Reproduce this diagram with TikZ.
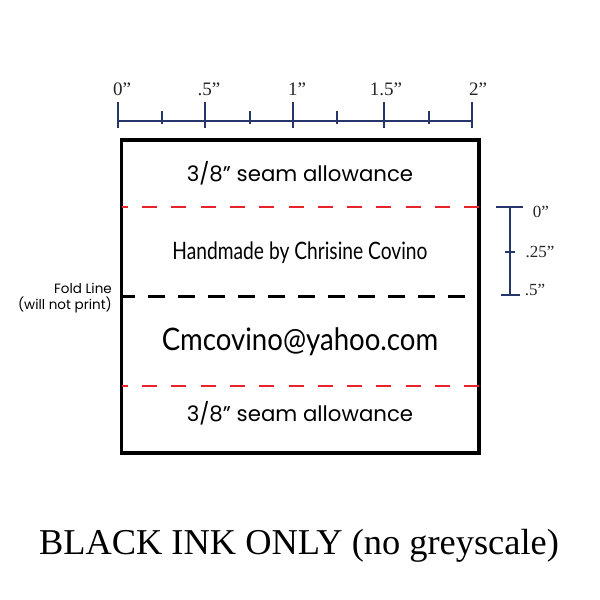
\documentclass[tikz,border=0pt]{standalone}
\usepackage{fontspec}
\setmainfont{Liberation Serif}
\newfontfamily\geo{Poppins}
\newfontfamily\hand{Lato}
\definecolor{navy}{HTML}{26366B}
\definecolor{seamred}{HTML}{E8232B}
\tikzset{
  ruler/.style={draw=navy, line width=1.8pt},
  rtick/.style={draw=navy, line width=1.2pt},
  rlabel/.style={font=\fontsize{19}{19}\selectfont, inner sep=0pt, text=black!85},
  slabel/.style={font=\fontsize{17}{17}\selectfont, inner sep=0pt, text=black!85},
  seamline/.style={draw=seamred, line width=2.2pt, dash pattern=on 15pt off 14.3pt, dash phase=8.8pt},
  foldline/.style={draw=black, line width=3pt, dash pattern=on 16.7pt off 13.3pt, dash phase=3.2pt},
  seamtext/.style={font=\geo\fontsize{21.3}{21.3}\selectfont, inner sep=0pt},
  smalltext/.style={font=\geo\fontsize{13.5}{15.5}\selectfont, inner sep=0pt, align=right},
  handtext/.style={font=\hand, inner sep=0pt},
}
\begin{document}
\begin{tikzpicture}[x=1pt,y=-1pt]
\useasboundingbox[fill=white] (0,0) rectangle (600,600);
% top ruler
\coordinate (h0) at (118,121);
\coordinate (h2) at (473,121);
\draw[ruler] (h0) -- (h2);
\foreach \x in {118,205,293,384,472}{\draw[ruler] (\x,102) -- (\x,128);}
\foreach \x in {162,250,337,429}{\draw[rtick] (\x,111) -- (\x,124);}
\node[rlabel] (l0) at (122,89) {0”};
\node[rlabel] (l05) at (209,89) {.5”};
\node[rlabel] (l1) at (297,89) {1”};
\node[rlabel] (l15) at (386,89) {1.5”};
\node[rlabel] (l2) at (478,89) {2”};
% label box
\draw[line width=3.2pt] (121.5,140) rectangle (479,453);
\draw[seamline] (121.5,207) -- (479,207);
\draw[seamline] (121.5,386) -- (479,386);
\draw[foldline] (121.5,296) -- (479,296);
\node[seamtext] (st1) at (300,173) {3/8” seam allowance};
\node[seamtext] (st2) at (300,413) {3/8” seam allowance};
\node[handtext] (maker) at (300,253) {\scalebox{0.8}[1]{\fontsize{24}{24}\selectfont Handmade by Chrisine Covino}};
\node[handtext] (mail) at (300,342) {\scalebox{0.89}[1]{\fontsize{31}{31}\selectfont Cmcovino@yahoo.com}};
\node[smalltext, anchor=east] (fold) at (112,298) {Fold Line\\(will not print)};
% side ruler
\draw[ruler, line width=1.4pt] (510,207) -- (510,295);
\draw[ruler, line width=1.4pt] (496,207) -- (523,207);
\draw[ruler, line width=1.4pt] (501,295) -- (520,295);
\draw[rtick] (505,252) -- (515,252);
\node[slabel] (s0) at (541,212) {0”};
\node[slabel] (s25) at (540,252) {.25”};
\node[slabel] (s5) at (535,290) {.5”};
% bottom note
\node[font=\fontsize{36.4}{36.4}\selectfont, inner sep=0pt] (note) at (299,546) {BLACK INK ONLY (no greyscale)};
\end{tikzpicture}
\end{document}
